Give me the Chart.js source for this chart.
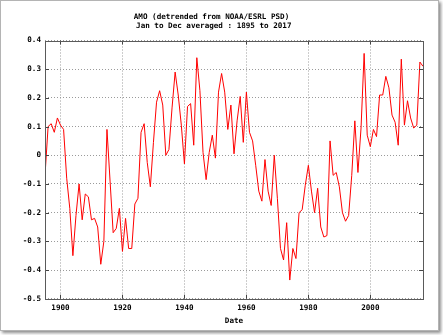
<!DOCTYPE html>
<html>
<head>
<meta charset="utf-8">
<script src="https://cdn.jsdelivr.net/npm/chart.js@4.4.1/dist/chart.umd.min.js"></script>
<style>
  html, body { margin: 0; padding: 0; background: #fff; }
  #frame {
    position: absolute; left: 0; top: 0;
    width: 437px; height: 329px;
    border: 1px solid #b4b4b4;
    box-shadow: 2px 2px 3px rgba(0, 0, 0, 0.45);
    background: #fff;
  }
  #amoChart { position: absolute; left: 0; top: 0; }
</style>
</head>
<body>
<div id="frame"></div>
<canvas id="amoChart" width="443" height="335"></canvas>
<script>
/* AMO annual means */

const firstYear = 1895;

const amoValues = [
    // 1895-1904
    -0.07, 0.10, 0.11, 0.08, 0.13, 0.105, 0.09, -0.08, -0.185, -0.35,
    // 1905-1914
    -0.21, -0.10, -0.225, -0.135, -0.145, -0.225, -0.22, -0.25, -0.38, -0.30,
    // 1915-1924
    0.09, -0.09, -0.27, -0.255, -0.185, -0.335, -0.22, -0.325, -0.325, -0.17,
    // 1925-1934
    -0.15, 0.08, 0.11, -0.025, -0.11, 0.045, 0.185, 0.225, 0.175, 0.0,
    // 1935-1944
    0.02, 0.165, 0.29, 0.21, 0.105, -0.03, 0.17, 0.18, 0.035, 0.34,
    // 1945-1954
    0.225, 0.01, -0.085, 0.01, 0.07, -0.01, 0.22, 0.285, 0.22, 0.09,
    // 1955-1964
    0.175, 0.005, 0.12, 0.205, 0.045, 0.22, 0.08, 0.05, -0.035, -0.125,
    // 1965-1974
    -0.16, -0.015, -0.125, -0.175, 0.0, -0.15, -0.325, -0.365, -0.235, -0.435,
    // 1975-1984
    -0.325, -0.36, -0.2, -0.19, -0.105, -0.035, -0.125, -0.2, -0.115, -0.25,
    // 1985-1994
    -0.285, -0.28, 0.05, -0.07, -0.06, -0.11, -0.2, -0.23, -0.21, -0.07,
    // 1995-2004
    0.12, -0.06, 0.095, 0.355, 0.07, 0.03, 0.09, 0.065, 0.21, 0.21,
    // 2005-2014
    0.275, 0.235, 0.14, 0.115, 0.035, 0.335, 0.105, 0.19, 0.13, 0.095,
    // 2015-2017
    0.105, 0.325, 0.31
];

const years = amoValues.map((v, i) => firstYear + i);

const xTicks = [1900, 1920, 1940, 1960, 1980, 2000];
const yTicks = [-0.5, -0.4, -0.3, -0.2, -0.1, 0, 0.1, 0.2, 0.3, 0.4];
const yTickLabels = ['-0.5', '-0.4', '-0.3', '-0.2', '-0.1', '0', '0.1', '0.2', '0.3', '0.4'];

const titleLines = ['AMO (detrended from NOAA/ESRL PSD)', ' Jan to Dec averaged : 1895 to 2017'];

const monoFont = { family: "'DejaVu Sans Mono', 'Liberation Mono', monospace", size: 7.6, weight: 'bold' };

// gnuplot style box with small inward tick marks on all four sides
const plotBox = {
    id: 'plotBox',
    afterDatasetsDraw(chart) {
        const { ctx, chartArea: a, scales } = chart;
        const len = 4;
        ctx.save();
        ctx.strokeStyle = '#444';
        ctx.lineWidth = 1;
        ctx.beginPath();
        xTicks.forEach(v => {
            const x = Math.round(scales.x.getPixelForValue(v)) + 0.5;
            ctx.moveTo(x, a.bottom); ctx.lineTo(x, a.bottom - len);
            ctx.moveTo(x, a.top); ctx.lineTo(x, a.top + len);
        });
        yTicks.forEach(v => {
            const y = Math.round(scales.y.getPixelForValue(v)) + 0.5;
            ctx.moveTo(a.left, y); ctx.lineTo(a.left + len, y);
            ctx.moveTo(a.right, y); ctx.lineTo(a.right - len, y);
        });
        ctx.stroke();
        ctx.strokeStyle = '#5a5a5a';
        ctx.strokeRect(Math.round(a.left) + 0.5, Math.round(a.top) + 0.5,
            Math.round(a.right - a.left), Math.round(a.bottom - a.top));
        ctx.restore();
    }
};

new Chart(document.getElementById('amoChart'), {
    type: 'line',
    data: {
        datasets: [{
            data: years.map((y, i) => ({ x: y, y: amoValues[i] })),
            borderColor: '#ff0000',
            borderWidth: 1,
            pointRadius: 0,
            tension: 0,
            fill: false
        }]
    },
    options: {
        responsive: false,
        animation: false,
        layout: { padding: { left: 0, right: 20, top: 0, bottom: 0 } },
        plugins: {
            legend: { display: false },
            tooltip: { enabled: false },
            title: {
                display: true,
                text: titleLines,
                color: '#000',
                font: { ...monoFont, lineHeight: '9px' },
                padding: { top: 12.5, bottom: 10 }
            }
        },
        scales: {
            x: {
                type: 'linear',
                min: 1895,
                max: 2017,
                afterBuildTicks: s => { s.ticks = xTicks.map(v => ({ value: v })); },
                afterFit: s => { s.height = 36.3; },
                ticks: { color: '#000', font: monoFont, padding: 5, maxRotation: 0, callback: v => String(v) },
                grid: { color: '#9a9a9a', drawTicks: false },
                border: { display: false, dash: [1, 2] },
                title: {
                    display: true,
                    text: 'Date',
                    color: '#000',
                    font: { ...monoFont, lineHeight: '9px' },
                    padding: { top: 0, bottom: 9.5 }
                }
            },
            y: {
                min: -0.5,
                max: 0.4,
                afterBuildTicks: s => { s.ticks = yTicks.map(v => ({ value: v })); },
                afterFit: s => { s.width = 45; },
                ticks: {
                    color: '#000',
                    font: monoFont,
                    padding: 4,
                    callback: (v, i) => yTickLabels[i]
                },
                grid: { color: '#9a9a9a', drawTicks: false },
                border: { display: false, dash: [1, 2] }
            }
        }
    },
    plugins: [plotBox]
});
</script>
</body>
</html>
